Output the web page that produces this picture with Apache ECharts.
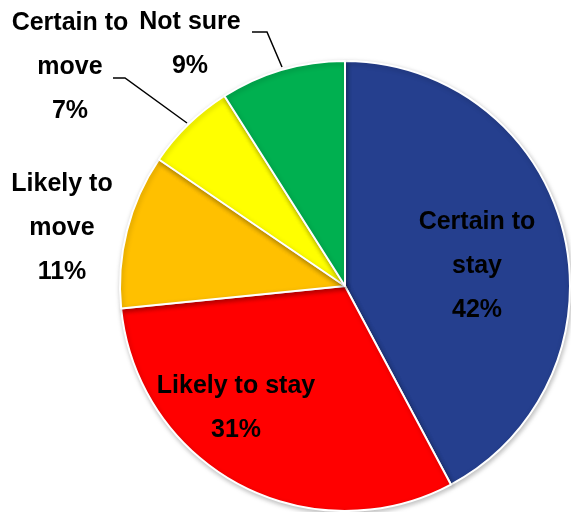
<!DOCTYPE html>
<html><head><meta charset="utf-8">
<script src="https://cdn.jsdelivr.net/npm/echarts@6/dist/echarts.min.js"></script>
<style>html,body{margin:0;padding:0;background:#fff}#c{width:571px;height:512px}</style>
</head><body><div id="c"></div>
<script>
const categories = ["Certain to\nstay", "Likely to stay", "Likely to\nmove", "Certain to\nmove", "Not sure"];
const values = [42.2, 31.2, 11.1, 6.5, 9.0];
const colors = ["#253F8E", "#FF0000", "#FFC000", "#FFFF00", "#00B050"];

// label placements (px) per slice
const labelPos = [
  {x: 477, y: 266, inside: true},
  {x: 236, y: 408, inside: true},
  {x: 62, y: 228},
  {x: 70, y: 67, line: [[187,123],[125,78],[113,78]]},
  {x: 190, y: 44, line: [[282,67],[267,32],[252,32]]}
];

const chart = echarts.init(document.getElementById('c'));
chart.setOption({
  animation: false,
  series: [{
    type: 'pie',
    center: [345, 286],
    radius: 225,
    startAngle: 90,
    clockwise: true,
    avoidLabelOverlap: false,
    itemStyle: {borderColor: '#fff', borderWidth: 2, shadowBlur: 5, shadowColor: 'rgba(0,0,0,0.25)', shadowOffsetX: 1, shadowOffsetY: 2},
    label: {
      show: true,
      position: 'outside',
      formatter: p => p.name + '\n' + Math.round(p.value) + '%',
      fontFamily: "'Liberation Sans Narrow', 'Arial Narrow', 'Liberation Sans', sans-serif",
      fontWeight: 'bold',
      fontSize: 25,
      lineHeight: 44,
      color: '#000',
      align: 'center',
      overflow: 'none'
    },
    labelLine: {show: true, lineStyle: {color: '#000', width: 1.5}},
    labelLayout: function (p) {
      const lp = labelPos[p.dataIndex];
      const r = {x: lp.x, y: lp.y, align: 'center', verticalAlign: 'middle', hideOverlap: false};
      if (lp.line) r.labelLinePoints = lp.line;
      return r;
    },
    data: categories.map((n, i) => ({
      name: n, value: values[i],
      itemStyle: {color: colors[i]},
      label: {position: labelPos[i].inside ? 'inside' : 'outside'},
      labelLine: {show: !!labelPos[i].line}
    }))
  }]
});
</script></body></html>
